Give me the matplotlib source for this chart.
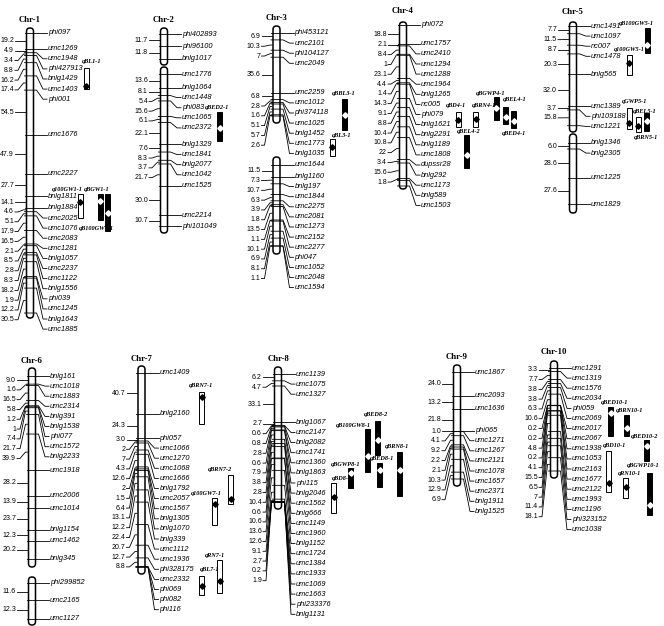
import matplotlib
matplotlib.use('Agg')
import matplotlib.pyplot as plt
from matplotlib.patches import FancyBboxPatch, Rectangle
import numpy as np

# ---------------- data ----------------
chrom_names = ['Chr-1', 'Chr-2', 'Chr-3', 'Chr-4', 'Chr-5',
               'Chr-6', 'Chr-7', 'Chr-8', 'Chr-9', 'Chr-10']

# markers per linkage segment (top to bottom), interval lengths in cM as printed
chr1_markers = [['phi097', 'umc1269', 'umc1948', 'phi427913', 'bnlg1429', 'umc1403', 'phi001',
                 'umc1676', 'umc2227', 'bnlg1811', 'bnlg1884', 'umc2025', 'umc1076', 'umc2083',
                 'umc1281', 'bnlg1057', 'umc2237', 'umc1122', 'bnlg1556', 'phi039', 'umc1245',
                 'bnlg1643', 'umc1885']]
chr1_dist = [['19.2', '4.9', '3.4', '8.8', '16.2', '17.4', '54.5', '47.9', '27.7', '14.1', '4.6',
              '5.1', '17.9', '16.5', '2.1', '8.5', '2.8', '8.3', '18.2', '1.9', '12.2', '30.5']]

chr2_markers = [['phi402893', 'phi96100', 'bnlg1017'],
                ['umc1776', 'bnlg1064', 'umc1448', 'phi083', 'umc1065', 'umc2372', 'bnlg1329',
                 'umc1841', 'bnlg2077', 'umc1042', 'umc1525', 'umc2214', 'phi101049']]
chr2_dist = [['11.7', '11.8'],
             ['13.6', '8.1', '5.4', '15.6', '6.1', '22.1', '7.6', '8.3', '3.7', '21.7', '30.0',
              '10.7']]

chr3_markers = [['phi453121', 'umc2101', 'phi104127', 'umc2049', 'umc2259', 'umc1012', 'phi374118',
                 'umc1025', 'bnlg1452', 'umc1773', 'bnlg1035'],
                ['umc1644', 'bnlg1160', 'bnlg197', 'umc1844', 'umc2275', 'umc2081', 'umc1273',
                 'umc2152', 'umc2277', 'phi047', 'umc1052', 'umc2048', 'umc1594']]
chr3_dist = [['6.9', '10.3', '7', '35.6', '6.8', '2.8', '1.6', '5.1', '5.7', '2.6'],
             ['11.5', '7.3', '10.7', '6.3', '3.9', '1.8', '13.5', '1.1', '10.1', '6.9', '8.1',
              '1.1']]

chr4_markers = [['phi072', 'umc1757', 'umc2410', 'umc1294', 'umc1288', 'umc1964', 'bnlg1265',
                 'nc005', 'phi079', 'bnlg1621', 'bnlg2291', 'bnlg1189', 'umc1808', 'dupssr28',
                 'bnlg292', 'umc1173', 'bnlg589', 'umc1503']]
chr4_dist = [['18.8', '2.1', '8.4', '1', '23.1', '4.4', '1.4', '14.3', '9.1', '8.8', '10.4',
              '10.8', '22', '3.4', '15.6', '1.8']]

chr5_markers = [['umc1491', 'umc1097', 'nc007', 'umc1478', 'bnlg565', 'umc1389', 'phi109188',
                 'umc1221'],
                ['bnlg1346', 'bnlg2305', 'umc1225', 'umc1829']]
chr5_dist = [['7.7', '11.5', '8.7', '20.3', '32.0', '3.7', '15.8'],
             ['6.0', '28.6', '27.6']]

chr6_markers = [['bnlg161', 'umc1018', 'umc1883', 'umc2314', 'bnlg391', 'bnlg1538', 'phi077',
                 'umc1572', 'bnlg2233', 'umc1918', 'umc2006', 'umc1014', 'bnlg1154', 'umc1462',
                 'bnlg345'],
                ['phi299852', 'umc2165', 'umc1127']]
chr6_dist = [['9.0', '1.6', '16.5', '5.8', '1.2', '1', '7.4', '21.7', '39.9', '28.2', '13.9',
              '23.7', '12.3', '20.2'],
             ['11.6', '12.3']]

chr7_markers = [['umc1409', 'bnlg2160', 'phi057', 'umc1066', 'umc1270', 'umc1068', 'umc1666',
                 'bnlg1792', 'umc2057', 'umc1567', 'bnlg1305', 'bnlg1070', 'bnlg339', 'umc1112',
                 'umc1936', 'phi328175', 'umc2332', 'phi069', 'phi082', 'phi116']]
chr7_dist = [['40.7', '24.3', '3.0', '2', '7', '4.3', '12.6', '2', '1.5', '6.4', '13.1', '12.2',
              '22.4', '20.7', '12.7', '8.8']]

chr8_markers = [['umc1139', 'umc1075', 'umc1327', 'bnlg1067', 'umc2147', 'bnlg2082', 'umc1741',
                 'umc1360', 'bnlg1863', 'phi115', 'bnlg2046', 'umc1562', 'bnlg666', 'umc1149',
                 'umc1960', 'bnlg1152', 'umc1724', 'umc1384', 'umc1933', 'umc1069', 'umc1663',
                 'phi233376', 'bnlg1131']]
chr8_dist = [['6.2', '4.7', '33.1', '2.7', '0.6', '0.8', '2.8', '0.6', '7.9', '3.8', '2.8',
              '10.4', '0.6', '10.6', '13.6', '12.6', '9.1', '2.7', '0.2', '1.9']]

chr9_markers = [['umc1867', 'umc2093', 'umc1636', 'phi065', 'umc1271', 'umc1267', 'umc2121',
                 'umc1078', 'umc1657', 'umc2371', 'bnlg1911', 'bnlg1525']]
chr9_dist = [['24.0', '13.2', '21.8', '1.0', '4.1', '9.2', '2.2', '2.1', '10.3', '12.9', '6.9']]

chr10_markers = [['umc1291', 'umc1319', 'umc1576', 'umc2034', 'phi059', 'umc2069', 'umc2017',
                  'umc2067', 'umc1938', 'umc1053', 'umc2163', 'umc1677', 'umc2122', 'umc1993',
                  'umc1196', 'phi323152', 'umc1038']]
chr10_dist = [['3.3', '7.7', '3.8', '3.8', '6.3', '10.6', '0.2', '0.2', '4.8', '0.2', '4.1',
               '15.5', '6.5', '7', '11.4', '18.1']]

all_markers = [chr1_markers, chr2_markers, chr3_markers, chr4_markers, chr5_markers,
               chr6_markers, chr7_markers, chr8_markers, chr9_markers, chr10_markers]
all_dist = [chr1_dist, chr2_dist, chr3_dist, chr4_dist, chr5_dist,
            chr6_dist, chr7_dist, chr8_dist, chr9_dist, chr10_dist]

# QTL intervals (cM from first marker of the segment)
qtl_names = ['qBL1-1', 'q100GW1-1', 'qBGW1-1', 'qB100GW1-1', 'qBED2-1', 'qBBL3-1', 'qBL3-1',
             'qBD4-1', 'qBRN4-1', 'qBEL4-2', 'qBGWP4-1', 'qBEL4-1', 'qBED4-1',
             'qB100GW5-1', 'q100GW5-1', 'qGWP5-1', 'qBEL5-1', 'qBRN5-1',
             'qBRN7-1', 'qBRN7-2', 'q100GW7-1', 'qBL7-1', 'qRN7-1',
             'qBD8-1', 'qBGWP8-1', 'qB100GW8-1', 'qBED8-2', 'qBED8-1', 'qBRN8-1',
             'qBED10-1', 'qBRN10-1', 'qBED10-2', 'qBD10-1', 'qRN10-1', 'qBGWP10-1']
qtl_chrom = [1, 1, 1, 1, 2, 3, 3, 4, 4, 4, 4, 4, 4, 5, 5, 5, 5, 5, 7, 7, 7, 7, 7,
             8, 8, 8, 8, 8, 8, 10, 10, 10, 10, 10, 10]
qtl_seg = [0, 0, 0, 0, 1, 0, 0, 0, 0, 0, 0, 0, 0, 0, 0, 0, 0, 0, 0, 0, 0, 0, 0,
           0, 0, 0, 0, 0, 0, 0, 0, 0, 0, 0, 0]
qtl_start = [42.8, 197.1, 196.5, 196.5, 38, 66, 106, 87, 87, 110, 72, 82, 86,
             2, 29, 82, 91, 87, 19, 102, 125, 203, 187,
             99.1, 85.5, 50, 42.7, 80.9, 70.9, 37.1, 44.8, 68.6, 79, 104.8, 100]
qtl_end = [68.5, 226.4, 228.9, 242.4, 67, 97, 123, 102, 102, 143, 95, 99, 103,
           27, 49, 103, 106, 105, 51, 131, 152, 222, 220,
           126.4, 103.6, 89.1, 73.6, 102.7, 110.9, 64.8, 64.8, 88.6, 118.1, 123.8, 140]
qtl_peak = [64.9, 206.9, 205.6, 220.3, 54, 82, 114, 95, 94, 130, 83, 92, 96,
            19, 37, 97, 100, 95, 24, 126, 131, 213, 208,
            111.8, 90, 74.5, 60, 87.3, 87.3, 42.9, 57.1, 74.3, 109.5, 113.3, 130.5]
qtl_filled = [False, False, True, True, True, True, False, False, False, True, True, True, True,
              True, False, False, False, True, False, False, False, False, False,
              False, True, True, True, True, True, True, True, True, False, False, True]

# ---------------- layout ----------------
W, H = 664, 626
CHR_W = 7
M_PITCH, D_PITCH = 10.1, 9.8
# per chromosome: centre x, title y, segments (top, bottom, margin, px per cM or None=fit)
chr_cx = [30, 164, 276.5, 403, 573, 32, 141.5, 278, 457, 554]
chr_title_y = [20, 20, 18, 11, 12, 361, 359, 359, 357, 352]
chr_segs = [[(28, 318, 5, None)],
            [(28, 65, 6, None), (67, 233, 7, None)],
            [(26, 123, 7, 1.0), (157, 254, 8, 1.0)],
            [(22, 189, 3, 1.0)],
            [(22, 132, 4, 1.0), (134, 213, 9, 1.0)],
            [(368, 567, 8, None), (577, 625, 6, None)],
            [(366, 574, 7, 1.0)],
            [(367, 509, 7, 1.1)],
            [(365, 486, 7, None)],
            [(361, 478, 7, 1.05)]]
qtl_x = [86, 80, 100, 107.5, 219.5, 344.5, 332, 458, 475.5, 466.5, 496, 505.5, 513.5,
         647, 629, 629, 638, 646.5, 201.5, 230.5, 214.5, 201.5, 219.5,
         333.5, 350.5, 367.5, 377.5, 379.5, 399.5, 610.5, 626.5, 646.5, 608.5, 625.5, 649.5]
qtl_ldx = [6, -12.5, -3, -11.5, -2, -1, 10, -2, 8.5, 2, -5, 9, 1,
           -11, 0, 6, 6.5, -0.5, -0.5, -10.5, -8, 8.5, -4.5,
           8, -5, -14, -1.5, 2.5, -2.5, 4, 3.5, -1.5, 6, 4, -6]
qtl_ldy = [-6, -5, -4, 35, -4, -5, -3, -7, -6, -3, -4, -7, 23,
           -5, -6, -7, -6, 24, -6, -5, -5, -7, -5,
           -5, -4, -4, -6, -4, -5, -4, -5, -4, -5, -5, -8]

SANS = ['Liberation Sans', 'DejaVu Sans']
SERIF = ['Liberation Serif', 'DejaVu Serif']
LW = 0.6


def spread(targets, pitch):
    out, prev = [], -1e9
    for t in targets:
        prev = max(t, prev + pitch)
        out.append(prev)
    return out


fig = plt.figure(figsize=(W / 100, H / 100), dpi=100)
ax = fig.add_axes([0, 0, 1, 1])
ax.set_xlim(0, W)
ax.set_ylim(H, 0)
ax.axis('off')

seg_origin = []
for ci in range(10):
    cx = chr_cx[ci]
    hw = CHR_W / 2
    ax.text(cx, chr_title_y[ci], chrom_names[ci], ha='center', va='center',
            fontsize=6.3, fontweight='bold', family=SERIF)
    m_y, m_names, d_mid, d_txt = [], [], [], []
    origins = []
    for si, (mk, ds) in enumerate(zip(all_markers[ci], all_dist[ci])):
        top, bot, mg, sc = chr_segs[ci][si]
        cum = np.concatenate([[0], np.cumsum([float(d) for d in ds])])
        if sc is None:
            sc = (bot - top - 2 * mg) / cum[-1]
        y = top + mg + cum * sc
        if len(mk) > len(y):
            y = np.concatenate([y, np.full(len(mk) - len(y), bot - mg)])
        y = np.minimum(y, bot - mg)
        origins.append((top + mg, sc))
        ax.add_patch(FancyBboxPatch((cx - hw, top), CHR_W, bot - top,
                                    boxstyle=f"round,pad=0,rounding_size={hw}",
                                    fc='white', ec='black', lw=1.1, zorder=2))
        m_y += list(y)
        m_names += mk
        for k, d in enumerate(ds):
            d_mid.append((y[k] + y[k + 1]) / 2)
            d_txt.append(d)
    seg_origin.append(origins)

    # marker ticks and labels on the right
    ly = spread(m_y, M_PITCH)
    for y0, y1, nm in zip(m_y, ly, m_names):
        ax.plot([cx - hw - 2, cx + hw + 3, cx + 13, cx + 17], [y0, y0, y1, y1],
                color='black', lw=LW, zorder=3)
        ax.text(cx + 18, y1, nm, ha='left', va='center', fontsize=5.3,
                style='italic', family=SANS)
    # interval lengths on the left
    dy = spread(d_mid, D_PITCH)
    for y0, y1, t in zip(d_mid, dy, d_txt):
        ax.plot([cx - hw - 1, cx - hw - 3, cx - 12, cx - 15], [y0, y0, y1, y1],
                color='black', lw=LW, zorder=3)
        ax.text(cx - 16, y1, t, ha='right', va='center', fontsize=5.0, family=SANS)

# QTL bars
BW = 5
for i, nm in enumerate(qtl_names):
    y0, sc = seg_origin[qtl_chrom[i] - 1][qtl_seg[i]]
    ys, ye, yp = y0 + qtl_start[i] * sc, y0 + qtl_end[i] * sc, y0 + qtl_peak[i] * sc
    x = qtl_x[i]
    fc, mc = ('black', 'white') if qtl_filled[i] else ('white', 'black')
    ax.add_patch(Rectangle((x - BW / 2, ys), BW, ye - ys, fc=fc, ec='black', lw=0.7, zorder=4))
    ax.plot(x, yp, marker='D', ms=2.8, mfc=mc, mec=mc, zorder=5)
    ax.text(x + qtl_ldx[i], ys + qtl_ldy[i], nm, ha='center', va='center', fontsize=4.5,
            style='italic', fontweight='bold', family=SERIF, zorder=6)

fig.savefig('out.png', dpi=100)
